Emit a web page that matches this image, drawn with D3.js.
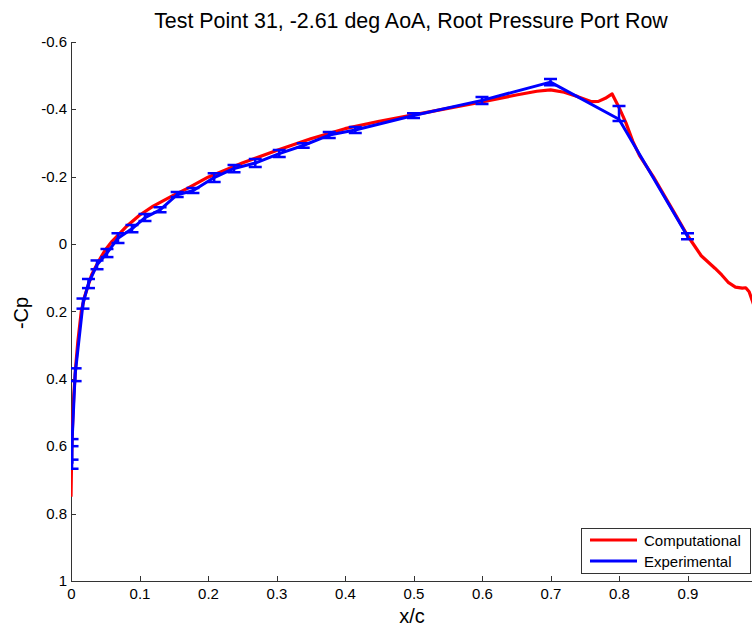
<!DOCTYPE html>
<meta charset="utf-8">
<style>
body { margin: 0; background: #fff; }
.axis path, .axis line { fill: none; stroke: #333; shape-rendering: crispEdges; }
.axis text { font-family: "Liberation Sans", Arial, sans-serif; font-size: 15px; fill: #000; }
.label { font-family: "Liberation Sans", Arial, sans-serif; font-size: 20px; fill: #000; }
.title { font-family: "Liberation Sans", Arial, sans-serif; font-size: 21.4px; fill: #000; }
.legend text { font-family: "Liberation Sans", Arial, sans-serif; font-size: 15px; fill: #000; }
</style>
<div id="chart"></div>
<script src="https://d3js.org/d3.v7.min.js"></script>
<script>
var w = 752, h = 627;

// computational curve (x/c, -Cp)
var compX = [0, 0.001, 0.002, 0.004, 0.007, 0.01, 0.015, 0.02, 0.03, 0.04, 0.05, 0.06, 0.08, 0.1, 0.12, 0.15, 0.17, 0.2, 0.25, 0.3, 0.35, 0.4, 0.45, 0.5, 0.55, 0.6, 0.65, 0.68, 0.7, 0.72, 0.74, 0.76, 0.77, 0.78, 0.79, 0.8, 0.81, 0.82, 0.83, 0.85, 0.87, 0.88, 0.9, 0.92, 0.94, 0.95, 0.96, 0.97, 0.98, 0.985, 0.99, 1.0];
var compCp = [0.75, 0.62, 0.55, 0.45, 0.36, 0.29, 0.2, 0.155, 0.092, 0.052, 0.018, -0.008, -0.05, -0.085, -0.112, -0.145, -0.165, -0.198, -0.24, -0.277, -0.312, -0.342, -0.364, -0.383, -0.402, -0.421, -0.442, -0.453, -0.457, -0.45, -0.437, -0.422, -0.423, -0.432, -0.445, -0.405, -0.36, -0.305, -0.262, -0.2, -0.13, -0.095, -0.025, 0.035, 0.072, 0.092, 0.115, 0.128, 0.131, 0.13, 0.142, 0.2];

// experimental ports with error bar limits
var expX = [0.0015, 0.0015, 0.006, 0.0175, 0.0255, 0.038, 0.0525, 0.0686, 0.089, 0.108, 0.13, 0.155, 0.178, 0.209, 0.238, 0.269, 0.304, 0.339, 0.377, 0.415, 0.5, 0.6, 0.7, 0.8, 0.9];
var expCp = [0.652, 0.589, 0.388, 0.177, 0.117, 0.062, 0.027, -0.017, -0.045, -0.078, -0.101, -0.146, -0.158, -0.197, -0.224, -0.240, -0.268, -0.292, -0.323, -0.338, -0.381, -0.426, -0.480, -0.370, -0.023];
var expLo = [0.640, 0.579, 0.369, 0.162, 0.104, 0.049, 0.015, -0.032, -0.056, -0.089, -0.109, -0.154, -0.166, -0.210, -0.234, -0.252, -0.279, -0.299, -0.332, -0.347, -0.388, -0.436, -0.489, -0.409, -0.032];
var expHi = [0.667, 0.600, 0.407, 0.192, 0.131, 0.075, 0.039, -0.003, -0.035, -0.068, -0.094, -0.139, -0.151, -0.184, -0.213, -0.228, -0.258, -0.285, -0.314, -0.329, -0.374, -0.415, -0.471, -0.365, -0.014];

var xTicks = [0, 0.1, 0.2, 0.3, 0.4, 0.5, 0.6, 0.7, 0.8, 0.9];
var yTicks = [-0.6, -0.4, -0.2, 0, 0.2, 0.4, 0.6, 0.8, 1];
var seriesNames = ["Computational", "Experimental"];
var seriesColors = ["#ff0000", "#0000ff"];

var padL = 71, padR = 756, padT = 41.7, padB = 581;

var svg = d3.select("#chart").append("svg")
  .attr("width", w).attr("height", h);

var x = d3.scaleLinear().domain([0, 1]).range([padL, padR]),
    y = d3.scaleLinear().domain([-0.6, 1]).range([padT, padB]);

var fmt = function (d) { return String(+d.toFixed(1)); };

svg.append("defs").append("clipPath").attr("id", "clip")
  .append("rect").attr("x", padL).attr("y", padT)
  .attr("width", padR - padL).attr("height", padB - padT);

svg.append("g").attr("class", "axis")
  .attr("transform", "translate(0," + padB + ")")
  .call(d3.axisBottom(x).tickValues(xTicks).tickFormat(fmt)
    .tickSizeInner(-5).tickSizeOuter(0).tickPadding(7));

svg.append("g").attr("class", "axis")
  .attr("transform", "translate(" + padL + ",0)")
  .call(d3.axisLeft(y).tickValues(yTicks).tickFormat(fmt)
    .tickSizeInner(-5).tickSizeOuter(0).tickPadding(4));

var plot = svg.append("g").attr("clip-path", "url(#clip)");

var line = d3.line()
  .x(function (d) { return x(d[0]); })
  .y(function (d) { return y(d[1]); });

plot.append("path")
  .datum(d3.zip(compX, compCp))
  .attr("d", line)
  .attr("fill", "none")
  .attr("stroke", seriesColors[0])
  .attr("stroke-width", 3.2)
  .attr("stroke-linejoin", "round");

var exp = d3.range(expX.length).map(function (i) {
  return { x: expX[i], cp: expCp[i], lo: expLo[i], hi: expHi[i] };
});

plot.append("path")
  .datum(exp.map(function (d) { return [d.x, d.cp]; }))
  .attr("d", line)
  .attr("fill", "none")
  .attr("stroke", seriesColors[1])
  .attr("stroke-width", 3)
  .attr("stroke-linejoin", "round");

// error bars
var eb = plot.selectAll(".eb").data(exp).enter().append("g")
  .attr("stroke", seriesColors[1])
  .attr("stroke-width", 2.5);
eb.append("line")
  .attr("x1", function (d) { return x(d.x); })
  .attr("x2", function (d) { return x(d.x); })
  .attr("y1", function (d) { return y(d.lo); })
  .attr("y2", function (d) { return y(d.hi); });
eb.append("line")
  .attr("x1", function (d) { return x(d.x) - 6.5; })
  .attr("x2", function (d) { return x(d.x) + 6.5; })
  .attr("y1", function (d) { return y(d.lo); })
  .attr("y2", function (d) { return y(d.lo); });
eb.append("line")
  .attr("x1", function (d) { return x(d.x) - 6.5; })
  .attr("x2", function (d) { return x(d.x) + 6.5; })
  .attr("y1", function (d) { return y(d.hi); })
  .attr("y2", function (d) { return y(d.hi); });

// title and axis labels
svg.append("text").attr("class", "title")
  .attr("x", 411).attr("y", 28)
  .attr("text-anchor", "middle")
  .text("Test Point 31, -2.61 deg AoA, Root Pressure Port Row");

svg.append("text").attr("class", "label")
  .attr("x", 412).attr("y", 623)
  .attr("text-anchor", "middle")
  .text("x/c");

svg.append("text").attr("class", "label")
  .attr("transform", "translate(28,313) rotate(-90)")
  .attr("text-anchor", "middle")
  .text("-Cp");

// legend
var lg = svg.append("g").attr("class", "legend");
lg.append("rect")
  .attr("x", 581.5).attr("y", 528.5)
  .attr("width", 169).attr("height", 45)
  .attr("fill", "#fff").attr("stroke", "#333");
seriesNames.forEach(function (name, i) {
  var ly = 540 + i * 21;
  lg.append("line")
    .attr("x1", 590).attr("x2", 637)
    .attr("y1", ly).attr("y2", ly)
    .attr("stroke", seriesColors[i]).attr("stroke-width", 3);
  lg.append("text")
    .attr("x", 644).attr("y", ly + 5.5)
    .text(name);
});
</script>
